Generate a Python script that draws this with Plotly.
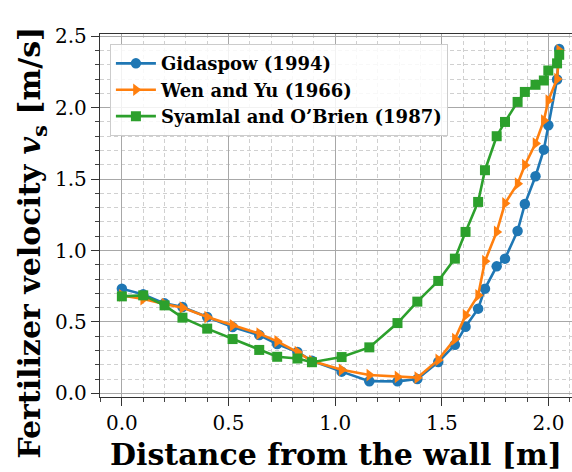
import plotly.graph_objects as go

# Distance from the wall [m] (shared sampling positions)
distance = [0.0, 0.1, 0.2, 0.284, 0.4, 0.519, 0.644, 0.728, 0.823, 0.891,
            1.03, 1.16, 1.292, 1.385, 1.483, 1.561, 1.611, 1.67, 1.702, 1.757,
            1.796, 1.855, 1.889, 1.939, 1.978, 1.999, 2.04, 2.05]

# Fertilizer velocity v_s [m/s] for each drag model
gidaspow = [0.733, 0.693, 0.63, 0.604, 0.534, 0.464, 0.408, 0.345, 0.29, 0.228,
            0.152, 0.085, 0.084, 0.1, 0.22, 0.34, 0.466, 0.593, 0.733, 0.889,
            0.943, 1.137, 1.325, 1.52, 1.706, 1.877, 2.197, 2.41]
wen_yu = [0.686, 0.66, 0.625, 0.6, 0.534, 0.476, 0.418, 0.364, 0.289, 0.226,
          0.165, 0.128, 0.115, 0.11, 0.234, 0.38, 0.546, 0.686, 0.925, 1.13,
          1.33, 1.468, 1.597, 1.749, 1.91, 2.05, 2.2, 2.4]
syamlal = [0.679, 0.686, 0.616, 0.53, 0.453, 0.38, 0.304, 0.256, 0.244, 0.218,
           0.254, 0.322, 0.492, 0.642, 0.787, 0.943, 1.13, 1.34, 1.562, 1.80,
           1.90, 2.04, 2.11, 2.16, 2.19, 2.26, 2.31, 2.37]

series_names = ["Gidaspow (1994)", "Wen and Yu (1966)", "Syamlal and O’Brien (1987)"]
series_values = [gidaspow, wen_yu, syamlal]
colors = ["#1f77b4", "#ff7f0e", "#2ca02c"]
symbols = ["circle", "triangle-right", "square"]
marker_sizes = [10.5, 11, 10]

fig = go.Figure()
for name, vals, col, sym, ms in zip(series_names, series_values, colors, symbols, marker_sizes):
    fig.add_trace(go.Scatter(
        x=distance, y=vals, name=name, mode="lines+markers",
        line=dict(color=col, width=2.6),
        marker=dict(color=col, symbol=sym, size=ms, line=dict(width=0)),
    ))

tick_font = dict(family="DejaVu Serif", size=20, color="black")
axis_common = dict(
    showline=True, linecolor="#333333", linewidth=1.3,
    ticks="outside", ticklen=8, tickwidth=1.2, tickcolor="#333333",
    showgrid=True, gridcolor="#a8a8a8", gridwidth=1,
    zeroline=False, tickfont=tick_font, tickformat=".1f",
)
minor_common = dict(ticks="outside", ticklen=4, tickwidth=1, tickcolor="#444444",
                    showgrid=True, gridcolor="#d0d0d0", griddash="4px,3px", gridwidth=0.9)

fig.update_xaxes(
    range=[-0.1025, 2.110], dtick=0.5, tick0=0, mirror=True,
    minor=dict(dtick=0.1, tick0=0, **minor_common),
    title=dict(text="<b>Distance from the wall [m]</b>",
               font=dict(family="DejaVu Serif", size=30, color="black"), standoff=10),
    **axis_common,
)
fig.update_yaxes(
    range=[-0.0255, 2.5155], dtick=0.5, tick0=0, mirror=False,
    minor=dict(dtick=0.1, tick0=0, **minor_common),
    **axis_common,
)

# Vertical axis label, placed as a rotated annotation left of the tick labels
fig.add_annotation(
    text="<b>Fertilizer velocity <i>v</i><sub>s</sub> [m/s]</b>",
    xref="paper", yref="paper", x=-0.144, y=0.425,
    xanchor="center", yanchor="middle", textangle=-90, showarrow=False,
    font=dict(family="DejaVu Serif", size=30, color="black"),
)

fig.update_layout(
    width=572, height=472,
    margin=dict(l=100, r=0, t=34, b=75),
    paper_bgcolor="white", plot_bgcolor="white",
    legend=dict(
        x=0.021, y=0.972, xanchor="left", yanchor="top",
        bgcolor="rgba(255,255,255,0.85)", bordercolor="#cccccc", borderwidth=1,
        font=dict(family="DejaVu Serif", size=18, color="black", weight="bold"),
        itemwidth=40, tracegroupgap=0,
    ),
    showlegend=True,
)

fig.write_html("out.html")
